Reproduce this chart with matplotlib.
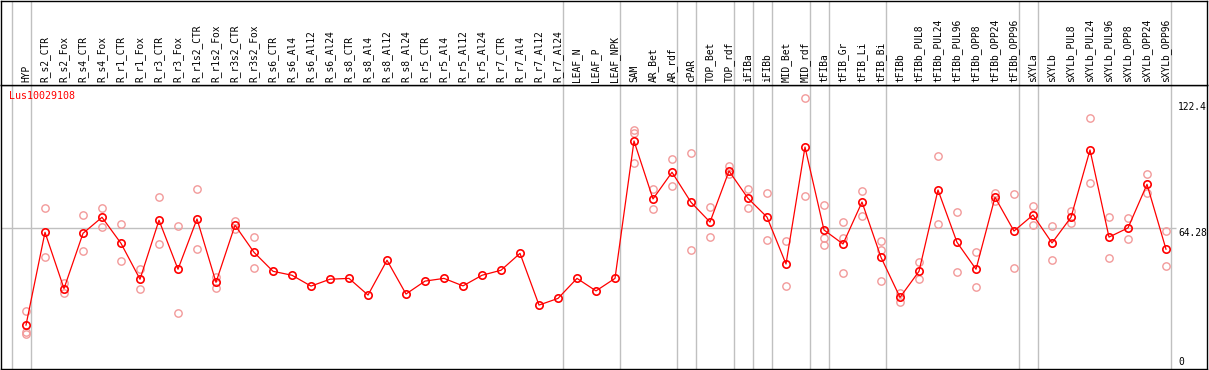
import numpy as np
import matplotlib.pyplot as plt
from matplotlib.transforms import blended_transform_factory

# sample names, left to right
samples = ["HYP", "R_s2_CTR", "R_s2_Fox", "R_s4_CTR", "R_s4_Fox", "R_r1_CTR", "R_r1_Fox",
           "R_r3_CTR", "R_r3_Fox", "R_r1s2_CTR", "R_r1s2_Fox", "R_r3s2_CTR", "R_r3s2_Fox",
           "R_s6_CTR", "R_s6_Al4", "R_s6_Al12", "R_s6_Al24", "R_s8_CTR", "R_s8_Al4",
           "R_s8_Al12", "R_s8_Al24", "R_r5_CTR", "R_r5_Al4", "R_r5_Al12", "R_r5_Al24",
           "R_r7_CTR", "R_r7_Al4", "R_r7_Al12", "R_r7_Al24", "LEAF_N", "LEAF_P", "LEAF_NPK",
           "SAM", "AR_Bet", "AR_rdf", "cPAR", "TOP_Bet", "TOP_rdf", "iFIBa", "iFIBb",
           "MID_Bet", "MID_rdf", "tFIBa", "tFIB_Gr", "tFIB_Li", "tFIB_Bi", "tFIBb",
           "tFIBb_PUL8", "tFIBb_PUL24", "tFIBb_PUL96", "tFIBb_OPP8", "tFIBb_OPP24",
           "tFIBb_OPP96", "sXYLa", "sXYLb", "sXYLb_PUL8", "sXYLb_PUL24", "sXYLb_PUL96",
           "sXYLb_OPP8", "sXYLb_OPP24", "sXYLb_OPP96"]

# mean expression per sample
means = [17.7, 62.2, 35.2, 61.7, 69.4, 56.9, 39.7, 68.0, 44.5, 68.6, 38.2, 65.6, 52.6,
         43.5, 41.6, 36.4, 39.7, 40.1, 32.1, 48.8, 32.6, 38.8, 40.1, 36.5, 41.6,
         44.0, 52.1, 27.3, 30.5, 40.1, 34.1, 40.1,
         106.0, 78.2, 91.0, 76.6, 67.1, 91.6, 78.5, 69.5, 47.0, 103.1,
         63.3, 56.6, 76.7, 50.2, 31.0, 43.5, 82.5, 57.4, 44.5, 79.0, 62.8,
         70.5, 57.1, 69.4, 101.7, 59.9, 64.3, 85.2, 54.1]

# individual replicates (empty where only the mean is shown)
reps = [[24.5, 14.2, 13.6], [73.7, 50.2], [37.7, 33.2], [70.4, 53.1], [73.7, 64.9],
        [66.0, 48.3], [44.6, 34.9], [79.0, 56.5], [65.1, 23.4], [82.8, 54.1],
        [40.9, 35.6], [67.8, 63.6], [59.8, 44.9],
        [], [], [], [], [], [], [], [], [], [], [], [], [], [], [], [], [], [], [],
        [111.4, 109.6, 95.4], [83.0, 73.4], [97.4, 84.3], [100.1, 53.6], [74.3, 59.9],
        [94.0, 90.2], [83.0, 73.7], [81.1, 58.4], [57.9, 36.5], [126.5, 79.5],
        [75.2, 59.3, 56.0], [67.0, 59.3, 42.7], [81.9, 69.9], [58.0, 53.7, 38.8],
        [32.9, 28.9], [47.8, 39.7], [98.8, 66.0], [71.9, 43.2], [52.6, 35.8],
        [81.1, 77.1], [80.4, 44.9], [74.8, 65.7], [65.1, 48.8], [72.3, 66.5],
        [117.0, 85.9], [69.5, 49.9], [69.1, 59.0], [90.2, 80.9], [62.8, 45.9]]

# tissue groups: index of the last sample in each group (-1 = left edge)
group_ends = [-1, 0, 28, 31, 34, 35, 37, 38, 39, 41, 42, 45, 52, 53, 60]

gene = "Lus10029108"
ytick_vals = [0, 64.28, 122.4]
ytick_text = ["0", "64.28", "122.4"]

W, H = 1209, 370
fig = plt.figure(figsize=(W / 100, H / 100), dpi=100)
plt.rcParams['font.family'] = ['DejaVu Sans Mono']

ax = fig.add_axes([1 / W, 1 / H, 1206 / W, 284 / H])
hd = fig.add_axes([1 / W, 285 / H, 1206 / W, 84 / H], sharex=ax)

x = np.arange(len(samples))
ax.set_xlim((1 - 26) / 19, (1207 - 26) / 19)
ax.set_ylim(-3.36, 132.85)
hd.set_ylim(0, 1)

grey = "#c0c0c0"
for g in group_ends:
    ax.axvline(g + 0.24, color=grey, lw=1, zorder=0)
    hd.axvline(g + 0.24, color=grey, lw=1, zorder=0)
ax.hlines(64.28, ax.get_xlim()[0], (1176 - 26) / 19, color=grey, lw=1, zorder=0)

for i, r in enumerate(reps):
    if r:
        ax.plot([i] * len(r), r, 'o', ms=5.3, mfc='none', mec='#f29a9a', mew=1.0, zorder=2)

ax.plot(x, means, '-', color='#ff0000', lw=0.9, zorder=3)
ax.plot(x, means, 'o', ms=5.3, mfc='none', mec='#ff0000', mew=1.2, zorder=4)

hd_tr = blended_transform_factory(hd.transData, hd.transAxes)
for i, s in enumerate(samples):
    hd.text(i, 0.04, s, rotation=90, ha='center', va='bottom', fontsize=6.9,
            color='black', transform=hd_tr)

ax.text(8 / 1206, 1 - 6 / 284, gene, color='#ff0000', fontsize=7.2,
        ha='left', va='top', transform=ax.transAxes)

lab_tr = blended_transform_factory(ax.transAxes, ax.transData)
offsets = [0, -4.7, 0]
for v, t, o in zip(ytick_vals, ytick_text, offsets):
    ax.annotate(t, xy=((1178 - 1) / 1206, v), xycoords=lab_tr, xytext=(0, o * 0.72),
                textcoords='offset points', ha='left', va='center', fontsize=6.9)

for a in (ax, hd):
    a.set_xticks([])
    a.set_yticks([])
    for sp in a.spines.values():
        sp.set_linewidth(1.0)
        sp.set_color('black')

fig.savefig("out.png", dpi=100)
